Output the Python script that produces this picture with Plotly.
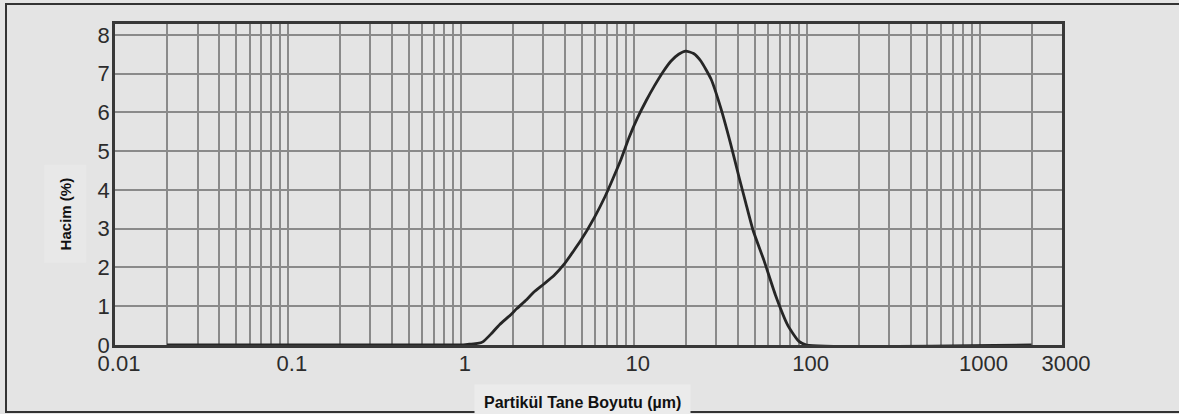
import plotly.graph_objects as go

# Particle size (µm) and volume (%)
size_um = [0.02, 1.0, 1.12, 1.25, 1.34, 1.5, 1.68, 1.9, 2.11, 2.4, 2.64, 3.0, 3.46,
           3.97, 4.45, 4.95, 5.94, 6.83, 7.6, 8.45, 9.4, 10.5, 11.8, 13.2, 14.8,
           16.4, 18.2, 20.0, 22.2, 24.5, 28.0, 31.9, 36.2, 40.5, 44.5, 49.0,
           56.8, 66.0, 78.0, 90.0, 100.0, 2000.0]
volume_pct = [0.0, 0.0, 0.02, 0.04, 0.08, 0.29, 0.53, 0.74, 0.94, 1.17, 1.36, 1.56, 1.79,
              2.09, 2.40, 2.70, 3.30, 3.83, 4.30, 4.79, 5.35, 5.85, 6.30, 6.69, 7.05,
              7.32, 7.50, 7.58, 7.52, 7.32, 6.86, 6.11, 5.22, 4.36, 3.66, 2.96,
              2.17, 1.29, 0.50, 0.10, 0.0, 0.0]

x_tickvals = [0.01, 0.1, 1, 10, 100, 1000, 3000]
x_ticktext = ["0.01", "0.1", "1", "10", "100", "1000", "3000"]
x_gridvals = [m * 10 ** e for e in range(-2, 4) for m in range(2, 10) if m * 10 ** e <= 2000]
y_tickvals = [0, 1, 2, 3, 4, 5, 6, 7, 8]

x_title = "Partikül Tane Boyutu (µm)"
y_title = "Hacim (%)"

BG = "#e4e4e4"
GRID = "#8a8a8a"
FRAME = "#383838"
TXT = "#2c2c2c"
FONT = "Liberation Sans, Arial, sans-serif"

fig = go.Figure()
fig.add_trace(go.Scatter(
    x=size_um, y=volume_pct, mode="lines",
    line=dict(color="#262626", width=2.8, shape="spline", smoothing=0.5),
    showlegend=False, hoverinfo="skip",
))

fig.update_layout(
    width=1179, height=414,
    margin=dict(l=115, r=117, t=24, b=69),
    paper_bgcolor=BG, plot_bgcolor=BG,
    font=dict(family=FONT, color=TXT),
    showlegend=False,
)

fig.update_xaxes(
    type="log", range=[-2, 3.4771],
    tickmode="array", tickvals=x_tickvals, ticktext=x_ticktext,
    tickfont=dict(size=22, color=TXT),
    ticks="", ticklabelstandoff=-3, ticklabelshift=4,
    showgrid=True, gridcolor=GRID, gridwidth=1.5,
    minor=dict(tickmode="array", tickvals=x_gridvals, showgrid=True,
               gridcolor=GRID, gridwidth=1.5, ticks=""),
    showline=True, linecolor=FRAME, linewidth=2.5, mirror=True,
    zeroline=False,
)
fig.update_yaxes(
    range=[0, 8.28],
    tickmode="array", tickvals=y_tickvals,
    tickfont=dict(size=22, color=TXT),
    ticks="", ticklabelstandoff=-2,
    showgrid=True, gridcolor=GRID, gridwidth=1.5,
    showline=True, linecolor=FRAME, linewidth=2.5, mirror=True,
    zeroline=False,
)

# Axis titles with light background boxes
fig.add_annotation(
    text=x_title, xref="paper", yref="paper", x=0.494, y=-0.178,
    xanchor="center", yanchor="middle", showarrow=False,
    font=dict(family=FONT, size=16, color="#111111", weight="bold"),
    bgcolor="#ebebeb", borderpad=9,
)
fig.add_annotation(
    text=y_title, xref="paper", yref="paper", x=-0.0528, y=0.41,
    xanchor="center", yanchor="middle", showarrow=False, textangle=-90,
    font=dict(family=FONT, size=15, color="#111111", weight="bold"),
    bgcolor="#e8e8e8", borderpad=12,
)

# Outer photo border (right edge lies off the canvas)
fig.add_shape(
    type="rect", xref="paper", yref="paper",
    x0=-0.1151, x1=1.14, y0=-0.2087, y1=1.0623,
    line=dict(color="#333333", width=2), fillcolor="rgba(0,0,0,0)", layer="below",
)

fig.write_html("out.html")
